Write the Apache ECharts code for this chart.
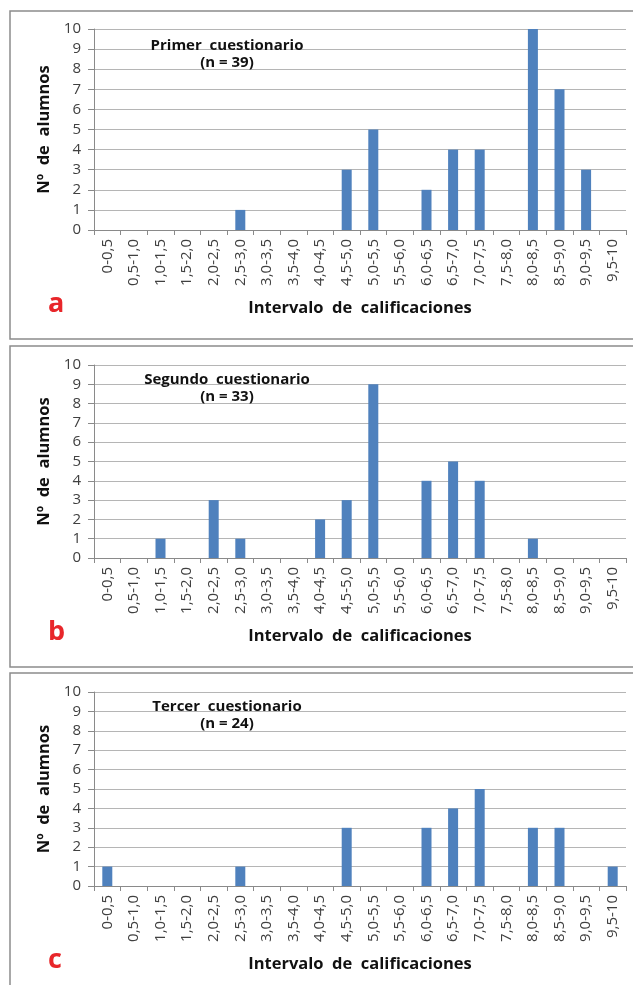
<!DOCTYPE html>
<html>
<head>
<meta charset="utf-8">
<script src="https://cdn.jsdelivr.net/npm/echarts@6/dist/echarts.min.js"></script>
<style>
html,body{margin:0;padding:0;background:#fff;}
#chart{width:633px;height:985px;}
</style>
</head>
<body>
<div id="chart"></div>
<script>
var categories = ["0-0,5","0,5-1,0","1,0-1,5","1,5-2,0","2,0-2,5","2,5-3,0","3,0-3,5","3,5-4,0","4,0-4,5","4,5-5,0","5,0-5,5","5,5-6,0","6,0-6,5","6,5-7,0","7,0-7,5","7,5-8,0","8,0-8,5","8,5-9,0","9,0-9,5","9,5-10"];
var primerValues  = [0,0,0,0,0,1,0,0,0,3,5,0,2,4,4,0,10,7,3,0];
var segundoValues = [0,0,1,0,3,1,0,0,2,3,9,0,4,5,4,0,1,0,0,0];
var tercerValues  = [1,0,0,0,0,1,0,0,0,3,0,0,3,4,5,0,3,3,0,1];
var panelTitles = ["Primer  cuestionario\n(n = 39)","Segundo  cuestionario\n(n = 33)","Tercer  cuestionario\n(n = 24)"];
var panelLetters = ["a","b","c"];
var yAxisName = "Nº  de  alumnos";
var xAxisName = "Intervalo  de  calificaciones";

var FONT = "'Open Sans', 'Noto Sans', sans-serif";
var seriesData = [primerValues, segundoValues, tercerValues];
var grids = [
  {left:94, right:7, top:29, height:201},
  {left:94, right:7, top:365, height:193},
  {left:94, right:7, top:692, height:194}
];
var panels = [
  {y:11, h:328},
  {y:346, h:321},
  {y:673, h:340}
];
var titleTops = [32, 366, 693];
var letterTops = [291, 619, 947];

var option = {
  animation:false,
  backgroundColor:'#fff',
  title: grids.map(function(g,i){
    return {
      text: panelTitles[i],
      left: 222, top: titleTops[i], textAlign:'center',
      textStyle:{fontFamily:FONT, fontSize:15, fontWeight:'bold', color:'#111', lineHeight:17}
    };
  }),
  grid: grids,
  xAxis: grids.map(function(g,i){
    return {
      type:'category', gridIndex:i, data:categories,
      name:xAxisName, nameLocation:'middle', nameGap:70,
      nameTextStyle:{fontFamily:FONT, fontSize:16.5, fontWeight:'bold', color:'#111'},
      axisLine:{lineStyle:{color:'#8a8a8a', width:1}},
      axisTick:{show:true, alignWithLabel:false, length:5, lineStyle:{color:'#8a8a8a'}},
      axisLabel:{rotate:90, interval:0, margin:9, fontFamily:FONT, fontSize:15, color:'#404040'},
      splitLine:{show:false}
    };
  }),
  yAxis: grids.map(function(g,i){
    return {
      type:'value', gridIndex:i, min:0, max:10, interval:1,
      name:yAxisName, nameLocation:'middle', nameGap:38, nameRotate:90,
      nameTextStyle:{fontFamily:FONT, fontSize:16.5, fontWeight:'bold', color:'#111'},
      axisLine:{show:true, lineStyle:{color:'#8a8a8a', width:1}},
      axisTick:{show:true, length:6, lineStyle:{color:'#8a8a8a'}},
      axisLabel:{margin:13, fontFamily:FONT, fontSize:15, color:'#404040'},
      splitLine:{show:true, lineStyle:{color:'#b5b5b5', width:1}}
    };
  }),
  series: seriesData.map(function(d,i){
    return {
      type:'bar', xAxisIndex:i, yAxisIndex:i, data:d,
      barWidth:10,
      itemStyle:{color:'#4f81bd'}
    };
  }),
  graphic: panels.map(function(p){
    return {
      type:'rect', shape:{x:10, y:p.y, width:640, height:p.h},
      style:{fill:null, stroke:'#8c8c8c', lineWidth:1.5}, z:-1, silent:true
    };
  }).concat(letterTops.map(function(t,i){
    return {
      type:'text', left:48, top:t,
      style:{text:panelLetters[i], fill:'#e8262a', font:"bold 27px "+FONT}
    };
  }))
};

var chart = echarts.init(document.getElementById('chart'));
chart.setOption(option);
</script>
</body>
</html>
